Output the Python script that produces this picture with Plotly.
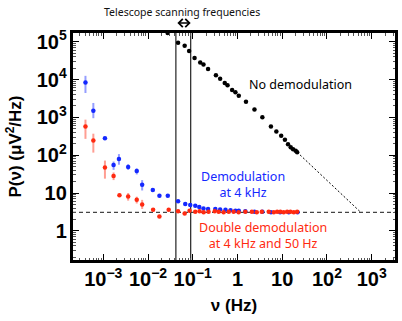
import math
import plotly.graph_objects as go

# no demodulation (black)
nodemod_f = [0.0275, 0.047, 0.066, 0.083, 0.11, 0.147, 0.174, 0.22, 0.33, 0.41,
             0.52, 0.6, 0.76, 0.9, 1.07, 1.55, 2.4, 3.6, 5.6, 7.4,
             9.5, 11.5, 13.5, 15.5, 17.5, 20, 21.6]
nodemod_p = [1.7e5, 9.3e4, 7.8e4, 5.7e4, 3.7e4, 2.8e4, 2.5e4, 1.9e4, 1.3e4, 1.05e4,
             8.1e3, 7.0e3, 5.3e3, 4.6e3, 3.7e3, 2.6e3, 1.6e3, 1.0e3, 575, 425,
             325, 256, 196, 163, 144, 131, 120]

# demodulation at 4 kHz (blue)
demod_f = [4.0e-4, 6.0e-4, 1.09e-3, 1.7e-3, 2.24e-3, 3.6e-3, 5.6e-3, 7.4e-3,
           0.0128, 0.018, 0.0277, 0.047, 0.068, 0.088, 0.114, 0.14, 0.174, 0.22,
           0.32, 0.41, 0.54, 0.7, 0.9, 1.07, 1.5, 2.4, 3.6, 5.6, 9.0, 14.0, 22.0]
demod_p = [8300, 1500, 280, 55, 79, 49, 38, 16.6,
           12, 8.5, 8.5, 6.1, 5.1, 4.8, 4.6, 4.3, 3.9, 3.8,
           3.8, 3.7, 3.6, 3.5, 3.4, 3.4, 3.3, 3.2, 3.2, 3.1, 3.1, 3.1, 3.1]
demod_hi = [12500, 2400, 300, 68, 107, 58, 45, 22,
            12, 8.5, 8.5, 6.1, 5.1, 4.8, 4.6, 4.3, 3.9, 3.8,
            3.8, 3.7, 3.6, 3.5, 3.4, 3.4, 3.3, 3.2, 3.2, 3.1, 3.1, 3.1, 3.1]
demod_lo = [4400, 950, 262, 41, 56, 41, 31, 11.7,
            12, 8.5, 8.5, 6.1, 5.1, 4.8, 4.6, 4.3, 3.9, 3.8,
            3.8, 3.7, 3.6, 3.5, 3.4, 3.4, 3.3, 3.2, 3.2, 3.1, 3.1, 3.1, 3.1]

# double demodulation at 4 kHz and 50 Hz (red)
ddemod_f = [4.0e-4, 6.0e-4, 1.09e-3, 1.7e-3, 2.3e-3, 3.6e-3, 5.6e-3, 7.4e-3,
            0.013, 0.018, 0.029, 0.047, 0.066, 0.085,
            0.114, 0.142, 0.175, 0.226, 0.31, 0.38, 0.49, 0.64, 0.82, 1.06,
            1.5, 2.1, 2.7, 3.5, 5.0, 6.5, 7.7, 9.1, 10.8, 12.9, 15.3, 18.2, 21.6]
ddemod_p = [575, 245, 47, 28, 8.7, 8.1, 6.6, 5.0,
            3.6, 2.4, 3.6, 3.3, 2.9, 3.4,
            3.2, 3.3, 3.1, 3.2, 3.3, 3.2, 3.1, 3.2, 3.2, 3.1,
            3.2, 3.2, 3.1, 3.2, 3.2, 3.1, 3.2, 3.2, 3.1, 3.2, 3.2, 3.1, 3.2]
ddemod_hi = [870, 370, 72, 35, 9.5, 10, 8, 6.6,
             3.6, 2.4, 3.6, 3.3, 2.9, 3.4,
             3.2, 3.3, 3.1, 3.2, 3.3, 3.2, 3.1, 3.2, 3.2, 3.1,
             3.2, 3.2, 3.1, 3.2, 3.2, 3.1, 3.2, 3.2, 3.1, 3.2, 3.2, 3.1, 3.2]
ddemod_lo = [270, 117, 24, 22, 8.0, 6.3, 5.3, 3.8,
             3.6, 2.4, 3.6, 3.3, 2.9, 3.4,
             3.2, 3.3, 3.1, 3.2, 3.3, 3.2, 3.1, 3.2, 3.2, 3.1,
             3.2, 3.2, 3.1, 3.2, 3.2, 3.1, 3.2, 3.2, 3.1, 3.2, 3.2, 3.1, 3.2]

scan_band = [0.042, 0.09]          # telescope scanning frequencies (Hz)
noise_floor = 3.1
extrap_f = [21.6, 570]
extrap_p = [120, noise_floor]

x_range = [2e-4, 3.5e3]
y_range = [0.16, 1.8e5]

BLUE = "#1428ff"
RED = "#ff2a10"


def errs(p, hi, lo):
    return [h - v for v, h in zip(p, hi)], [v - l for v, l in zip(p, lo)]


fig = go.Figure()

# reference lines
fig.add_trace(go.Scatter(x=x_range, y=[noise_floor, noise_floor], mode="lines",
                         line=dict(color="#444", width=1.2, dash="4px,3px")))
fig.add_trace(go.Scatter(x=extrap_f, y=extrap_p, mode="lines",
                         line=dict(color="black", width=1, dash="2px,2px")))
for f in scan_band:
    fig.add_trace(go.Scatter(x=[f, f], y=y_range, mode="lines",
                             line=dict(color="#222", width=1.2)))

fig.add_trace(go.Scatter(x=nodemod_f, y=nodemod_p, mode="markers",
                         marker=dict(color="black", size=4.5)))

up, dn = errs(demod_p, demod_hi, demod_lo)
fig.add_trace(go.Scatter(x=demod_f, y=demod_p, mode="markers",
                         marker=dict(color=BLUE, size=4.5),
                         error_y=dict(type="data", array=up, arrayminus=dn, width=0,
                                      thickness=2, color="rgba(20,40,255,0.45)")))
up, dn = errs(ddemod_p, ddemod_hi, ddemod_lo)
fig.add_trace(go.Scatter(x=ddemod_f, y=ddemod_p, mode="markers",
                         marker=dict(color=RED, size=4.5),
                         error_y=dict(type="data", array=up, arrayminus=dn, width=0,
                                      thickness=2, color="rgba(255,40,16,0.45)")))

# frame
fig.add_shape(type="rect", xref="paper", yref="paper", x0=0, x1=1, y0=0, y1=1,
              line=dict(color="black", width=2), layer="above")

txt = dict(family="Noto Sans", size=12.5)
fig.add_annotation(text="Telescope scanning frequencies", xref="paper", yref="paper",
                   x=0.34, y=1.087, xanchor="center", yanchor="middle", showarrow=False,
                   font=dict(family="Noto Sans", size=10.5, color="#111"))
fig.add_annotation(text="", xref="x", yref="paper", axref="x", ayref="pixel",
                   x=math.log10(scan_band[1]), y=1.039, ax=math.log10(scan_band[0]), ay=0,
                   showarrow=True, arrowhead=4, arrowside="end+start", arrowsize=1,
                   arrowwidth=1.6, arrowcolor="black", standoff=0, startstandoff=0)
fig.add_annotation(text="No demodulation", xref="paper", yref="paper", x=0.54, y=0.769,
                   xanchor="left", yanchor="middle", showarrow=False,
                   font=dict(color="black", **txt))
fig.add_annotation(text="Demodulation<br>at 4 kHz", xref="paper", yref="paper", x=0.528, y=0.332,
                   xanchor="center", yanchor="middle", showarrow=False, align="center",
                   font=dict(color=BLUE, **txt))
fig.add_annotation(text="Double demodulation<br>at 4 kHz and 50 Hz", xref="paper", yref="paper",
                   x=0.59, y=0.111, xanchor="center", yanchor="middle", showarrow=False,
                   align="center", font=dict(color=RED, **txt))

axis_font = dict(family="Liberation Sans", size=17, color="black", weight="bold")
common = dict(type="log", dtick=1, exponentformat="power", showgrid=False, zeroline=False,
              showline=True, linecolor="black", linewidth=2, mirror="ticks",
              ticks="inside", ticklen=7, tickcolor="black", tickwidth=1, automargin=False,
              minor=dict(ticks="inside", ticklen=3.5, tickcolor="#555", showgrid=False),
              tickfont=dict(family="Liberation Sans", size=16, color="black", weight="bold"))

fig.update_xaxes(range=[math.log10(v) for v in x_range],
                 title=dict(text="ν (Hz)", font=axis_font, standoff=10), **common)
fig.update_yaxes(range=[math.log10(v) for v in y_range],
                 title=dict(text="P(ν) (μV<sup>2</sup>/Hz)", font=axis_font, standoff=11), **common)

fig.update_layout(template="none", width=402, height=321, showlegend=False,
                  margin=dict(l=72, r=6, t=32, b=60, autoexpand=False),
                  plot_bgcolor="white", paper_bgcolor="white",
                  font=dict(family="Liberation Sans"))

fig.write_html("out.html", config={"displayModeBar": False},
               post_script="document.body.style.margin='0';")
